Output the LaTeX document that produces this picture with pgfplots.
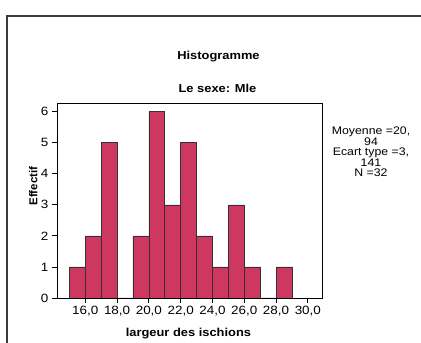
\documentclass[border=0pt]{standalone}
\usepackage{fontspec}
\setmainfont{Liberation Sans}[FakeStretch=1.12]
\newfontfamily\plainsans{Liberation Sans}
\usepackage{pgfplots}
\pgfplotsset{compat=1.18}
\definecolor{barcol}{RGB}{206,56,96}
\definecolor{framecol}{RGB}{60,60,60}
\begin{document}
\begin{tikzpicture}
\path[use as bounding box] (0pt,0pt) rectangle (421pt,343pt);
\draw[line width=2.4pt, framecol] (7pt,-5pt) -- (7pt,327pt) -- (430pt,327pt);
\node[font=\fontsize{11.5}{13}\selectfont\bfseries] at (218.5pt,286.3pt) {Histogramme};
\node[font=\fontsize{11.5}{13}\selectfont\bfseries] at (217.5pt,255pt) {Le sexe: Mle};
\node[font=\fontsize{11}{10.4}\selectfont, align=center] at (371pt,191pt)
  {Moyenne =20,\\94\\Ecart type =3,\\141\\N =32};
\begin{axis}[
  at={(57pt,45pt)}, anchor=south west,
  scale only axis, width=265pt, height=195pt,
  xmin=14.22, xmax=30.89, ymin=0, ymax=6.28,
  xtick={16,18,...,30}, ytick={0,1,...,6},
  tick align=outside, tick pos=left,
  major tick length=5pt,
  axis line style={line width=0.8pt},
  every tick/.style={black, line width=0.8pt},
  /pgf/number format/assume math mode=true,
  xticklabel style={/pgf/number format/.cd, fixed, fixed zerofill, precision=1, use comma},
  yticklabel style={/pgf/number format/.cd, fixed, precision=0},
  tick label style={font=\fontsize{12}{14}\selectfont},
  xlabel={largeur des ischions},
  ylabel={Effectif},
  xlabel style={font=\fontsize{11.5}{13}\selectfont\bfseries, at={(axis description cs:0.496,-0.18)}, anchor=center},
  ylabel style={font=\fontsize{11.5}{13}\selectfont\plainsans\bfseries, at={(axis description cs:-0.09,0.574)}, anchor=center},
]
\addplot[ybar interval, fill=barcol, draw=black!80, line width=0.6pt] coordinates {
  (15,1) (16,2) (17,5) (18,0) (19,2) (20,6) (21,3) (22,5)
  (23,2) (24,1) (25,3) (26,1) (27,0) (28,1) (29,0)
};
\end{axis}
\end{tikzpicture}
\end{document}
